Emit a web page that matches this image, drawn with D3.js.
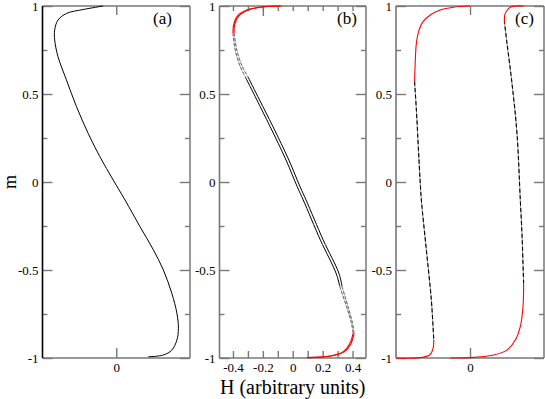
<!DOCTYPE html>
<html>
<head>
<meta charset="utf-8">
<script src="https://cdn.jsdelivr.net/npm/d3@7"></script>
<style>
  body { margin: 0; background: #fff; }
  text { font-family: "Liberation Serif", "Times New Roman", serif; fill: #000; }
</style>
</head>
<body>
<svg id="chart" width="545" height="399"></svg>
<script>
// ---- data ----
var mTicks = [-1, -0.5, 0, 0.5, 1];
var mMinor = [-0.75, -0.25, 0.25, 0.75];
var hTicksB = [-0.4, -0.2, 0, 0.2, 0.4];
var hMinorB = [-0.3, -0.1, 0.1, 0.3];
var hTicksAC = [0];

// panel (a): single curve
var aM = [1, 0.98, 0.958, 0.92, 0.864, 0.807, 0.712, 0.58, 0.428, 0.277, 0.144, 0.011, -0.102, -0.254, -0.386, -0.5, -0.632, -0.746, -0.831, -0.898, -0.955, -0.983, -0.993];
var aH = [-0.087, -0.22, -0.33, -0.387, -0.409, -0.409, -0.387, -0.331, -0.264, -0.187, -0.109, -0.02, 0.058, 0.158, 0.247, 0.313, 0.369, 0.403, 0.413, 0.403, 0.369, 0.313, 0.213];

// panel (b): two close branches
var bM  = [1, 0.996, 0.977, 0.94, 0.892, 0.845, 0.75, 0.655, 0.598, 0.466, 0.314, 0.125, -0.027, -0.102, -0.33, -0.519, -0.595, -0.709, -0.803, -0.86, -0.917, -0.964, -0.989, -0.998];
var bH1 = [-0.085, -0.196, -0.307, -0.373, -0.396, -0.4, -0.385, -0.351, -0.318, -0.24, -0.151, -0.045, 0.03, 0.07, 0.185, 0.29, 0.315, 0.36, 0.393, 0.404, 0.382, 0.338, 0.249, 0.093];
var bH2 = [-0.075, -0.188, -0.298, -0.365, -0.389, -0.392, -0.374, -0.337, -0.3, -0.222, -0.132, -0.026, 0.049, 0.089, 0.204, 0.309, 0.33, 0.37, 0.4, 0.41, 0.39, 0.347, 0.258, 0.105];
var bBreaks = [0.845, 0.598, -0.595, -0.86];
var bStyles = ["red", "bdash", "solid", "bdash", "red"];

// panel (c): hysteresis loop
var cLeftM = [1, 0.993, 0.977, 0.949, 0.911, 0.864, 0.788, 0.693, 0.57, 0.409, 0.049, -0.102, -0.386, -0.67, -0.898, -0.945, -0.983, -0.998, -1];
var cLeftH = [0, -0.111, -0.197, -0.263, -0.311, -0.337, -0.355, -0.362, -0.367, -0.355, -0.333, -0.322, -0.289, -0.256, -0.24, -0.244, -0.267, -0.333, -0.49];
var cLeftBreaks = [0.57, -0.898];
var cRightM = [-1, -0.998, -0.983, -0.955, -0.898, -0.822, -0.709, -0.576, -0.292, -0.102, 0.277, 0.561, 0.788, 0.902, 0.958, 0.993, 1];
var cRightH = [-0.13, 0, 0.156, 0.245, 0.3, 0.333, 0.351, 0.355, 0.344, 0.333, 0.311, 0.278, 0.245, 0.229, 0.233, 0.267, 0.355];
var cRightBreaks = [0.902, -0.576];
var cStyles = ["red", "cdash", "red"];

// ---- layout ----
var svg = d3.select("#chart");
var yTop = 6, yBot = 358;
var frameColor = "#777";
var y = d3.scaleLinear().domain([-1, 1]).range([yBot, yTop]);
var hDomain = [-0.49, 0.49];

var panels = [
  { left: 42.5, right: 190, label: "(a)", labelX: 153, leftColor: "#000" },
  { left: 219.5, right: 366, label: "(b)", labelX: 337, leftColor: frameColor },
  { left: 396, right: 544, label: "(c)", labelX: 515, leftColor: frameColor }
];
panels.forEach(function (p) {
  p.x = d3.scaleLinear().domain(hDomain).range([p.left, p.right]);
});

var line = function (x) {
  return d3.line()
    .x(function (d) { return x(d.h); })
    .y(function (d) { return y(d.m); })
    .curve(d3.curveCatmullRom.alpha(0.5));
};

function zip(ms, hs) {
  return ms.map(function (m, i) { return { m: m, h: hs[i] }; });
}

function drawSegments(g, x, pts, breaks, styles) {
  var bounds = [Infinity].concat(breaks).concat([-Infinity]);
  styles.forEach(function (s, i) {
    var hi = bounds[i], lo = bounds[i + 1];
    var seg = pts.filter(function (d) { return d.m <= hi && d.m >= lo; });
    drawStyled(g, x, seg, s);
  });
}

function drawStyled(g, x, seg, s) {
  var l = line(x);
  if (s === "red") {
    g.append("path").attr("d", l(seg)).attr("fill", "none")
      .attr("stroke", "#ff0000").attr("stroke-width", 1.1);
  } else if (s === "solid") {
    g.append("path").attr("d", l(seg)).attr("fill", "none")
      .attr("stroke", "#000").attr("stroke-width", 1);
  } else if (s === "bdash") {
    g.append("path").attr("d", l(seg)).attr("fill", "none")
      .attr("stroke", "#c8c8c8").attr("stroke-width", 1);
    g.append("path").attr("d", l(seg)).attr("fill", "none")
      .attr("stroke", "#666").attr("stroke-width", 1)
      .attr("stroke-dasharray", "3,2");
  } else if (s === "cdash") {
    g.append("path").attr("d", l(seg)).attr("fill", "none")
      .attr("stroke", "#999").attr("stroke-width", 1);
    g.append("path").attr("d", l(seg)).attr("fill", "none")
      .attr("stroke", "#000").attr("stroke-width", 1.1)
      .attr("stroke-dasharray", "4,2.5");
  }
}

function styleAxis(g) {
  g.select(".domain").remove();
  g.selectAll(".tick line").attr("stroke", frameColor).attr("stroke-width", 1.4);
  g.selectAll(".tick text")
    .style("font-family", "'Liberation Serif', 'Times New Roman', serif")
    .style("font-size", "13px").attr("fill", "#000");
}

// ticks only, no labels
function tickOnly(g) {
  styleAxis(g);
  g.selectAll(".tick text").remove();
}

panels.forEach(function (p, i) {
  var g = svg.append("g");
  var x = p.x;

  // y ticks, left and right, pointing inwards
  g.append("g").attr("transform", "translate(" + p.left + ",0)")
    .call(d3.axisLeft(y).tickValues(mTicks).tickSize(-10).tickPadding(4)
      .tickFormat(function (d) { return String(d); }))
    .call(styleAxis);
  g.append("g").attr("transform", "translate(" + p.left + ",0)")
    .call(d3.axisLeft(y).tickValues(mMinor).tickSize(-5))
    .call(tickOnly);
  g.append("g").attr("transform", "translate(" + p.right + ",0)")
    .call(d3.axisRight(y).tickValues(mTicks).tickSize(-10))
    .call(tickOnly);
  g.append("g").attr("transform", "translate(" + p.right + ",0)")
    .call(d3.axisRight(y).tickValues(mMinor).tickSize(-5))
    .call(tickOnly);

  // x ticks
  if (i === 1) {
    g.append("g").attr("transform", "translate(0," + yBot + ")")
      .call(d3.axisBottom(x).tickValues(hTicksB).tickSize(-7).tickPadding(5)
        .tickFormat(function (d) { return String(d); }))
      .call(styleAxis);
    g.append("g").attr("transform", "translate(0," + yBot + ")")
      .call(d3.axisBottom(x).tickValues(hMinorB).tickSize(-7))
      .call(tickOnly);
    g.append("g").attr("transform", "translate(0," + yTop + ")")
      .call(d3.axisTop(x).tickValues(hTicksB.concat(hMinorB)).tickSize(-5))
      .call(tickOnly);
    g.append("g").attr("transform", "translate(0," + yTop + ")")
      .call(d3.axisTop(x).tickValues([-0.2]).tickSize(-10))
      .call(tickOnly);
  } else {
    g.append("g").attr("transform", "translate(0," + yBot + ")")
      .call(d3.axisBottom(x).tickValues(hTicksAC).tickSize(-10).tickPadding(5)
        .tickFormat(function (d) { return String(d); }))
      .call(styleAxis);
    g.append("g").attr("transform", "translate(0," + yTop + ")")
      .call(d3.axisTop(x).tickValues(hTicksAC).tickSize(-9))
      .call(tickOnly);
  }

  // frame
  g.append("line").attr("x1", p.left).attr("x2", p.right).attr("y1", yTop).attr("y2", yTop)
    .attr("stroke", frameColor).attr("stroke-width", 1.5);
  g.append("line").attr("x1", p.left).attr("x2", p.right).attr("y1", yBot).attr("y2", yBot)
    .attr("stroke", frameColor).attr("stroke-width", 1.5);
  g.append("line").attr("x1", p.right).attr("x2", p.right).attr("y1", yTop).attr("y2", yBot)
    .attr("stroke", frameColor).attr("stroke-width", 1.5);
  g.append("line").attr("x1", p.left).attr("x2", p.left).attr("y1", yTop).attr("y2", yBot)
    .attr("stroke", p.leftColor).attr("stroke-width", 1.6);

  // curves
  if (i === 0) {
    drawStyled(g, x, zip(aM, aH), "solid");
  } else if (i === 1) {
    drawSegments(g, x, zip(bM, bH1), bBreaks, bStyles);
    drawSegments(g, x, zip(bM, bH2), bBreaks, bStyles);
  } else {
    drawSegments(g, x, zip(cLeftM, cLeftH), cLeftBreaks, cStyles);
    drawSegments(g, x, zip(cRightM, cRightH), cRightBreaks, cStyles);
  }

  // panel label
  g.append("text").attr("x", p.labelX).attr("y", 24)
    .style("font-size", "17px").text(p.label);
});

// axis titles
var pb = panels[1];
svg.append("text")
  .attr("x", (pb.left + pb.right) / 2).attr("y", 394)
  .attr("text-anchor", "middle").style("font-size", "20px")
  .text("H (arbitrary units)");
svg.append("text")
  .attr("transform", "translate(16," + y(0) + ") rotate(-90)")
  .attr("text-anchor", "middle").style("font-size", "18px")
  .text("m");
</script>
</body>
</html>
